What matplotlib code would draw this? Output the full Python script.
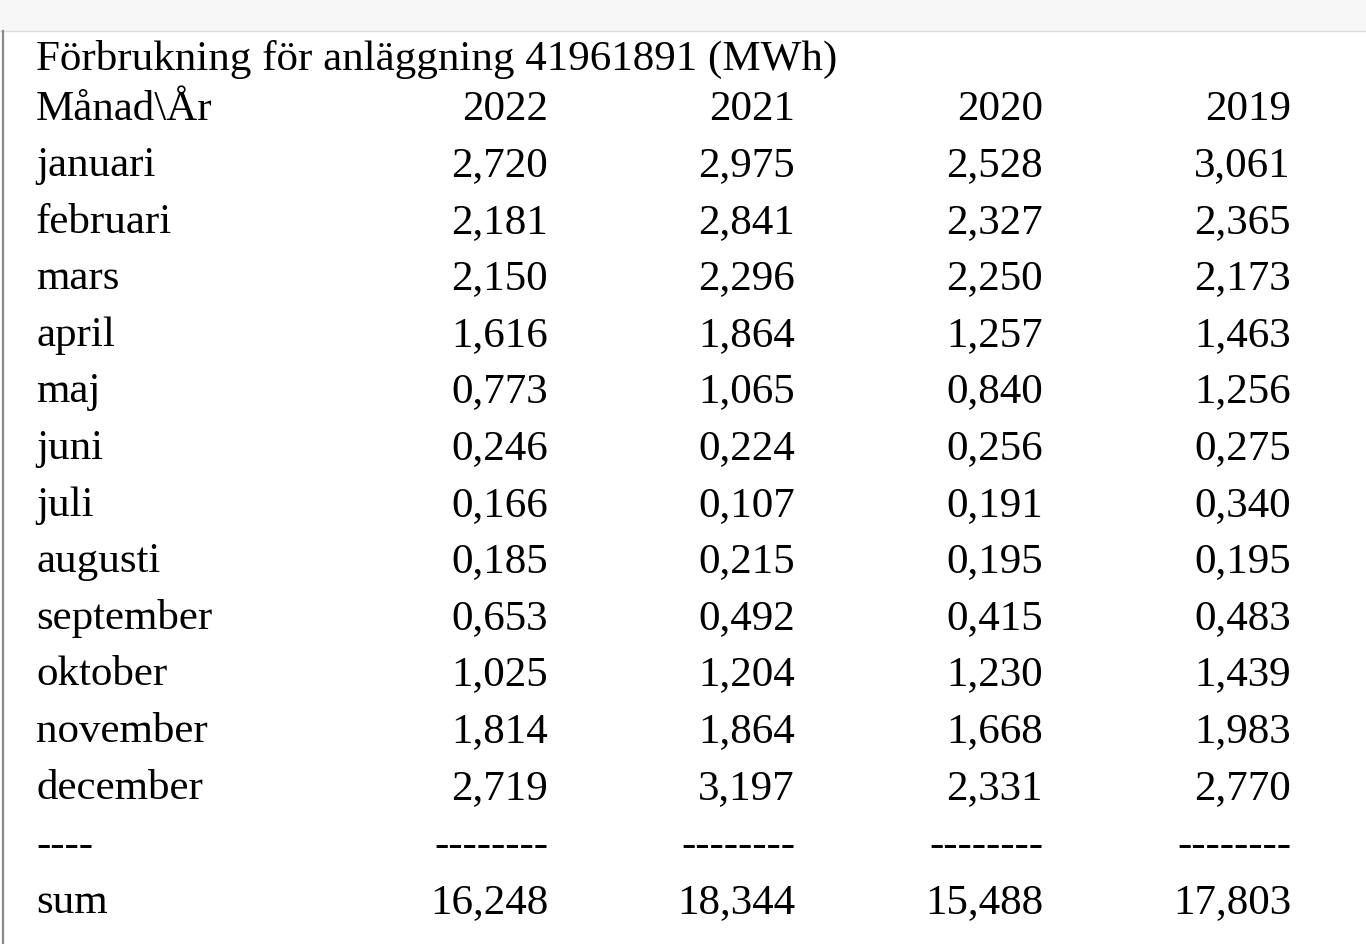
import matplotlib.pyplot as plt

title = "Förbrukning för anläggning 41961891 (MWh)"
corner = "Månad\\År"
years = ["2022", "2021", "2020", "2019"]
months = ["januari", "februari", "mars", "april", "maj", "juni", "juli",
          "augusti", "september", "oktober", "november", "december"]
v2022 = [2.720, 2.181, 2.150, 1.616, 0.773, 0.246, 0.166, 0.185, 0.653, 1.025, 1.814, 2.719]
v2021 = [2.975, 2.841, 2.296, 1.864, 1.065, 0.224, 0.107, 0.215, 0.492, 1.204, 1.864, 3.197]
v2020 = [2.528, 2.327, 2.250, 1.257, 0.840, 0.256, 0.191, 0.195, 0.415, 1.230, 1.668, 2.331]
v2019 = [3.061, 2.365, 2.173, 1.463, 1.256, 0.275, 0.340, 0.195, 0.483, 1.439, 1.983, 2.770]
sums = [16.248, 18.344, 15.488, 17.803]


def fmt(v):
    return f"{v:.3f}".replace(".", ",")


fig = plt.figure(figsize=(13.66, 9.44), dpi=100)
ax = fig.add_axes([0, 0, 1, 1])
ax.set_xlim(0, 1366)
ax.set_ylim(944, 0)
ax.axis("off")

# browser-ish frame
ax.axhspan(0, 30, color="#f7f7f7", zorder=0)
ax.plot([0, 1366], [30.5, 30.5], color="#dcdcdc", lw=1)
ax.plot([3, 3], [31, 944], color="#8a8a8a", lw=1.6)

font = dict(family="Liberation Serif", fontsize=31.0, color="black", va="baseline")
x_left = 36
x_cols = [548, 795, 1043, 1291]

ax.text(x_left, 70, title, ha="left", **font)
ax.text(x_left, 120, corner, ha="left", **font)
for x, y in zip(x_cols, years):
    ax.text(x, 120, y, ha="right", **font)

columns = [v2022, v2021, v2020, v2019]
row_h = 56.6
for i, m in enumerate(months):
    yb = 176 + i * row_h
    ax.text(x_left, yb, m, ha="left", **font)
    for x, col in zip(x_cols, columns):
        ax.text(x, yb, fmt(col[i]), ha="right", **font)

y_dash = 856
ax.text(x_left, y_dash, "----", ha="left", **font)
for x in x_cols:
    ax.text(x, y_dash, "--------", ha="right", **font)

y_sum = 913
ax.text(x_left, y_sum, "sum", ha="left", **font)
for x, s in zip(x_cols, sums):
    ax.text(x, y_sum, fmt(s), ha="right", **font)

fig.savefig("out.png", dpi=100)
